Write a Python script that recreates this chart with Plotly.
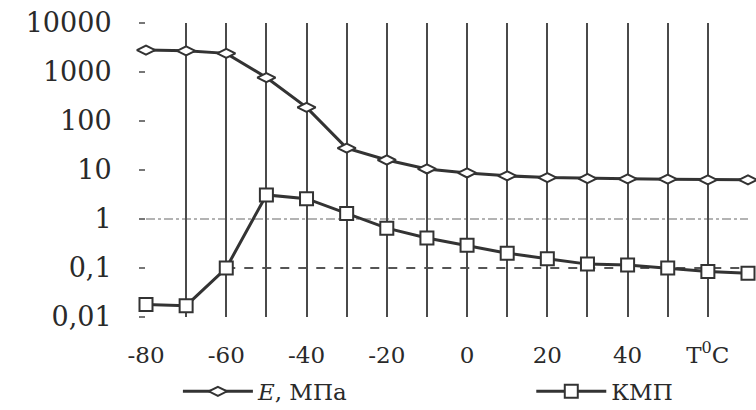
import plotly.graph_objects as go

# Data
temperature = [-80, -70, -60, -50, -40, -30, -20, -10, 0, 10, 20, 30, 40, 50, 60, 70]
e_mpa = [2800, 2700, 2400, 770, 190, 28, 16, 10.5, 8.7, 7.6, 7.0, 6.7, 6.6, 6.5, 6.3, 6.3]
kmp = [0.018, 0.017, 0.10, 3.1, 2.6, 1.3, 0.65, 0.41, 0.29, 0.20, 0.155, 0.12, 0.115, 0.10, 0.085, 0.078]

x_tickvals = [-80, -60, -40, -20, 0, 20, 40, 60]
x_ticktext = ["-80", "-60", "-40", "-20", "0", "20", "40", "T<sup>0</sup>C"]
y_tickvals = [0.01, 0.1, 1, 10, 100, 1000, 10000]
y_ticktext = ["0,01", "0,1", "1", "10", "100", "1000", "10000"]

ref_line_1 = 1
ref_line_01 = 0.1

INK = "#333333"
FONT = "DejaVu Serif"

fig = go.Figure()
fig.add_trace(go.Scatter(
    x=temperature, y=e_mpa, name="<i>E</i>, МПа", mode="lines+markers",
    line=dict(color=INK, width=3),
    marker=dict(symbol="diamond-wide", size=13, color="white", line=dict(color=INK, width=2)),
    cliponaxis=False, legend="legend",
))
fig.add_trace(go.Scatter(
    x=temperature, y=kmp, name="КМП", mode="lines+markers",
    line=dict(color=INK, width=3),
    marker=dict(symbol="square", size=13, color="white", line=dict(color=INK, width=2)),
    cliponaxis=False, legend="legend2",
))

fig.add_shape(type="line", xref="x", yref="y", x0=temperature[0], x1=temperature[-1],
              y0=ref_line_1, y1=ref_line_1, line=dict(color="#9a9a9a", width=1.5, dash="dashdot"),
              layer="below")
fig.add_shape(type="line", xref="x", yref="y", x0=-60, x1=temperature[-1],
              y0=ref_line_01, y1=ref_line_01, line=dict(color="#555555", width=2, dash="dash"),
              layer="below")

legend_common = dict(orientation="h", yanchor="top", y=-0.18, xanchor="left",
                     itemwidth=70, font=dict(size=23, family=FONT),
                     bgcolor="rgba(0,0,0,0)")

fig.update_layout(
    width=756, height=410,
    margin=dict(l=146, r=8, t=23, b=93, autoexpand=False),
    paper_bgcolor="white", plot_bgcolor="white",
    font=dict(family=FONT, color="#2a2a2a", size=22),
    showlegend=True,
    legend=dict(x=0.053, **legend_common),
    legend2=dict(x=0.64, **legend_common),
    xaxis=dict(range=[-80, 70], tickvals=x_tickvals, ticktext=x_ticktext,
               showgrid=True, gridcolor="#4a4a4a", gridwidth=1.5,
               minor=dict(dtick=10, tick0=0, showgrid=True, gridcolor="#4a4a4a", gridwidth=1.5),
               zeroline=False, showline=False, ticks="", ticklabelstandoff=22,
               tickfont=dict(size=23, family=FONT), automargin=False),
    yaxis=dict(type="log", range=[-2, 4], tickvals=y_tickvals, ticktext=y_ticktext,
               showgrid=False, zeroline=False, showline=False,
               ticks="outside", ticklen=6, tickcolor="#777777", tickwidth=1.5,
               ticklabelstandoff=22, tickfont=dict(size=27, family=FONT), automargin=False),
)

fig.write_html("out.html", config={"displayModeBar": False},
               post_script="document.body.style.margin='0px';")
